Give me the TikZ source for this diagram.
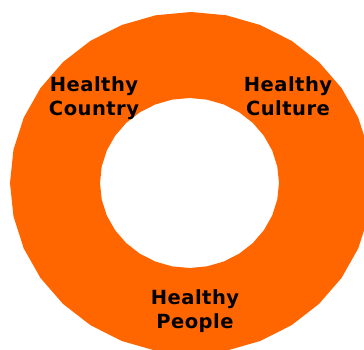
\documentclass[tikz,border=0pt]{standalone}
\usepackage{fontspec}
\setmainfont{DejaVu Sans}
\newfontfamily\labelfont[LetterSpace=2.5]{DejaVu Sans Bold}
\definecolor{ringorange}{HTML}{FF6600}
\begin{document}
\begin{tikzpicture}[x=1pt,y=-1pt,
  ringlabel/.style={font=\labelfont\fontsize{19.5}{24}\selectfont,
    align=center, inner sep=0pt, text=black}]
  \useasboundingbox (0,0) rectangle (364,350);
  % ring: outer and inner 32-sided outlines, filled with the even-odd rule
  \fill[ringorange, even odd rule]
    plot[samples=33, domain=0:360] ({191+181*cos(\x)},{183+171*sin(\x)}) -- cycle
    plot[samples=33, domain=0:360] ({189.5+89.5*cos(\x)},{183+85*sin(\x)}) -- cycle;
  % labels
  \node[ringlabel] (country) at (94,98) {Healthy\\Country};
  \node[ringlabel] (culture) at (288,96) {Healthy\\Culture};
  \node[ringlabel] (people) at (195,311) {Healthy\\People};
\end{tikzpicture}
\end{document}
